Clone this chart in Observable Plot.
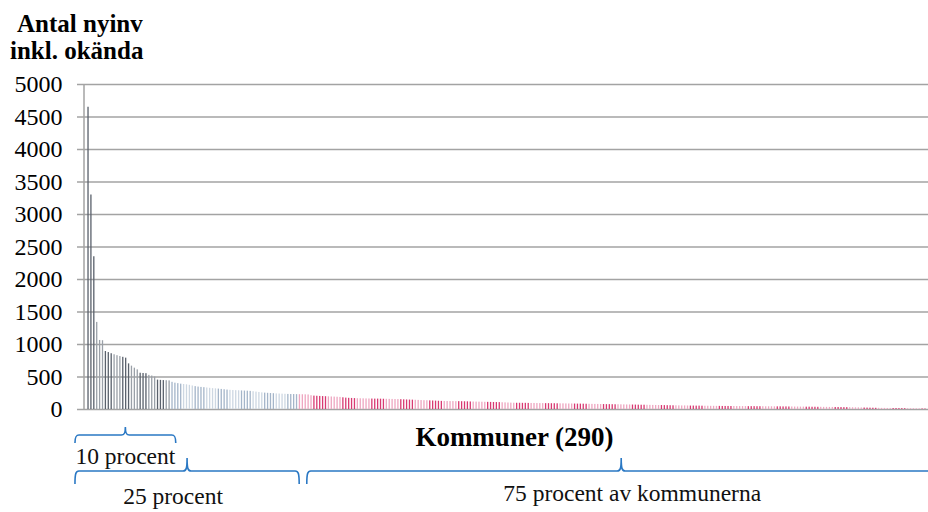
<!DOCTYPE html>
<html><head><meta charset="utf-8">
<script src="https://cdn.jsdelivr.net/npm/d3@7"></script>
<script src="https://cdn.jsdelivr.net/npm/@observablehq/plot@0.6"></script>
<style>html,body{margin:0;padding:0;background:#fff}svg{display:block}</style>
</head><body><div id="chart"></div>
<script>
// ---- data ----
const yTicks = [0, 500, 1000, 1500, 2000, 2500, 3000, 3500, 4000, 4500, 5000];
const yTitle = ["Antal nyinv", "inkl. okända"];
const xTitle = "Kommuner (290)";
const groupLabels = ["10 procent", "25 procent", "75 procent av kommunerna"];

// largest 10 % of the 290 municipalities
const top10 = [4650, 3300, 2350, 1340, 1062, 1058, 892, 876, 858, 842,
  828, 815, 803, 790, 702, 667, 636, 610, 558, 554,
  551, 525, 515, 500, 452, 448, 445, 443, 440];
// next 15 % (up to 25 %)
const next15 = [418, 405, 398, 390, 385, 380, 372, 362, 352, 345,
  340, 336, 331, 326, 321, 318, 314, 309, 304, 299,
  295, 292, 290, 288, 286, 284, 282, 279, 274, 268,
  262, 256, 252, 249, 246, 243, 240, 238, 236, 234,
  232, 231, 230, 229];
// remaining 75 %
const rest75 = [228, 227, 226, 224, 212, 206, 204, 201, 199, 197,
  195, 193, 191, 189, 186, 180, 175, 172, 170, 168,
  166, 165, 164, 163, 162, 161, 160, 160, 159, 158,
  157, 156, 155, 154, 153, 151, 149, 147, 145, 144,
  142, 140, 138, 136, 135, 133, 131, 129, 127, 125,
  124, 123, 122, 122, 121, 121, 120, 119, 118, 116,
  115, 114, 113, 112, 111, 110, 109, 108, 107, 106,
  104, 102, 100, 98, 97, 96, 96, 95, 95, 94,
  93, 93, 92, 91, 91, 90, 90, 89, 89, 88,
  87, 87, 86, 85, 85, 84, 83, 83, 82, 81,
  80, 79, 78, 78, 77, 76, 75, 75, 74, 73,
  73, 72, 71, 70, 70, 69, 68, 67, 66, 66,
  65, 64, 63, 62, 61, 61, 60, 59, 58, 57,
  57, 56, 55, 55, 54, 53, 53, 52, 52, 51,
  50, 50, 49, 49, 48, 48, 47, 47, 47, 46,
  46, 46, 45, 45, 45, 44, 44, 44, 43, 43,
  43, 42, 42, 42, 41, 41, 41, 40, 40, 39,
  39, 38, 38, 37, 37, 36, 36, 35, 35, 34,
  34, 33, 33, 32, 32, 31, 31, 30, 29, 29,
  28, 27, 26, 25, 24, 23, 22, 21, 20, 19,
  18, 17, 17, 16, 16, 15, 15, 14, 14, 13,
  13, 12, 12, 11, 10, 9, 8];

// ---- build table ----
const groups = [top10, next15, rest75];
const data = [];
groups.forEach((arr, g) => arr.forEach((v, j) => data.push({rank: data.length + 1, value: v, group: g, j})));
const ranks = data.map(d => d.rank);

const palette = [
  ["#5a616c", "#9aa0a8"],
  ["#a4b5c9", "#cdd7e2"],
  ["#eea6c0", "#d83a72"]
];
function barColor(d) {
  const period = d.group === 0 ? 3 : d.group === 1 ? 4 : 5;
  return palette[d.group][Math.floor(d.j / period) % 2];
}

const W = 928, H = 512;
const serif = "'Liberation Serif', 'Times New Roman', serif";

const chart = Plot.plot({
  width: W, height: H,
  marginTop: 84, marginBottom: 103, marginLeft: 84, marginRight: 1.5,
  style: {fontFamily: serif, fontSize: "24px", color: "#000", background: "#fff"},
  x: {type: "band", domain: ranks, range: [86.5, 926.5], paddingInner: 0.55, paddingOuter: 0.3, axis: null},
  y: {domain: [0, 5000], range: [409, 84], axis: null},
  color: {type: "identity"},
  marks: [
    Plot.ruleY(yTicks, {stroke: "#a3a3a3", strokeWidth: 1.5, insetLeft: -7, insetRight: -1.5}),
    Plot.barY(data, {x: "rank", y: "value", fill: barColor}),
    Plot.axisY({ticks: yTicks, tickSize: 0, tickPadding: 22, label: null, fontSize: 24, tickFormat: d => String(d)})
  ]
});
document.getElementById("chart").appendChild(chart);

// ---- annotations (positions derived from the chart scales) ----
const xs = chart.scale("x"), ys = chart.scale("y");
const bw = xs.bandwidth;
const bStart = r => xs.apply(r);
const bEnd = r => xs.apply(r) + bw;
const svg = d3.select(chart);

// y axis line
svg.append("line")
  .attr("x1", 84).attr("x2", 84)
  .attr("y1", ys.apply(5000)).attr("y2", ys.apply(0))
  .attr("stroke", "#a3a3a3").attr("stroke-width", 1.5);

// y title
const tt = svg.append("text").attr("text-anchor", "start").attr("font-family", serif).attr("font-weight", "bold").attr("font-size", 25).attr("fill", "#000");
tt.append("tspan").attr("x", 17).attr("y", 32).text(yTitle[0]);
tt.append("tspan").attr("x", 10).attr("y", 59).text(yTitle[1]);

// x title
const nTop = top10.length, nQ = top10.length + next15.length, nAll = data.length;
svg.append("text")
  .attr("x", (bStart(1) + bEnd(nAll)) / 2 + 8).attr("y", 446)
  .attr("text-anchor", "middle").attr("font-family", serif).attr("font-weight", "bold").attr("font-size", 27)
  .text(xTitle);

// brackets
function brace(x0, x1, yb, h) {
  const xm = (x0 + x1) / 2, r = 4;
  return `M${x0},${yb + h} C${x0},${yb + 2} ${x0 + 1},${yb} ${x0 + r},${yb} L${xm - r},${yb} C${xm - 1},${yb} ${xm},${yb - 2} ${xm},${yb - h} C${xm},${yb - 2} ${xm + 1},${yb} ${xm + r},${yb} L${x1 - r},${yb} C${x1 - 1},${yb} ${x1},${yb + 2} ${x1},${yb + h}`;
}
const braces = [
  {x0: bStart(1) - 12.4, x1: bEnd(nTop) + 6, yb: 435, h: 8, label: groupLabels[0], ty: 464, tdx: 0},
  {x0: bStart(1) - 12.4, x1: bEnd(nQ) + 2, yb: 471, h: 13, label: groupLabels[1], ty: 504, tdx: -14},
  {x0: bStart(nQ + 1) + 8, x1: bEnd(nAll) + 10, yb: 471, h: 13, label: groupLabels[2], ty: 501, tdx: 11}
];
braces.forEach(b => {
  svg.append("path").attr("d", brace(b.x0, b.x1, b.yb, b.h))
    .attr("fill", "none").attr("stroke", "#2a78c4").attr("stroke-width", 1.6);
  svg.append("text")
    .attr("x", (b.x0 + b.x1) / 2 + b.tdx).attr("y", b.ty)
    .attr("text-anchor", "middle").attr("font-family", serif).attr("font-size", 23.5).attr("fill", "#111")
    .text(b.label);
});
</script>
</body></html>
